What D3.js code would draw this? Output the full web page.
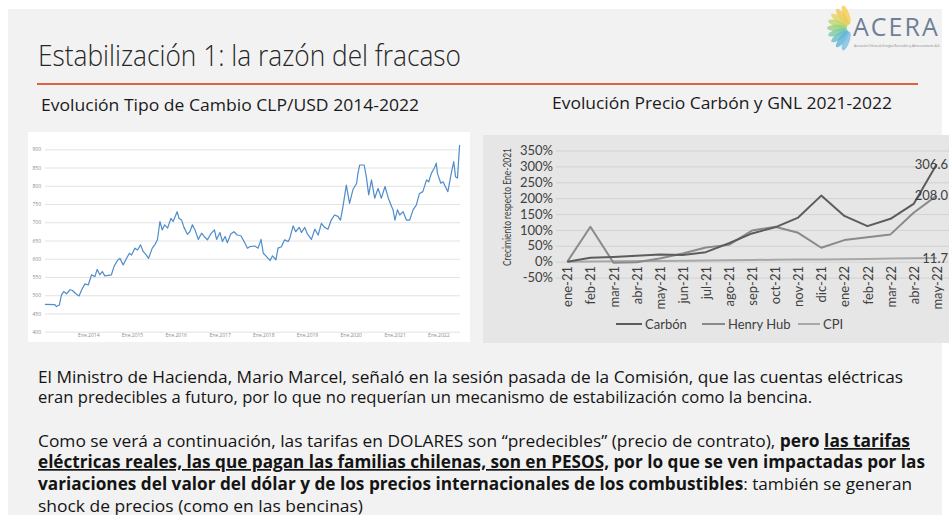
<!DOCTYPE html>
<html>
<head>
<meta charset="utf-8">
<script src="https://cdn.jsdelivr.net/npm/d3@7"></script>
<style>
body { margin: 0; background: #fff; }
svg { display: block; }
</style>
</head>
<body>
<svg width="949" height="515"></svg>
<script>
// tipo de cambio CLP/USD
var fxDates = [
	"2013-01-04","2013-03-28","2013-04-10","2013-05-04","2013-05-22","2013-06-10","2013-07-04","2013-08-01","2013-08-22","2013-09-19","2013-10-16","2013-11-07","2013-12-04",
	"2014-01-01","2014-01-28","2014-02-25","2014-03-16","2014-04-07","2014-04-28","2014-05-19","2014-07-13","2014-08-04","2014-09-01","2014-09-22","2014-10-19","2014-11-10","2014-12-10","2014-12-28",
	"2015-01-25","2015-02-16","2015-03-13","2015-04-04","2015-05-01","2015-05-19","2015-06-19","2015-07-10","2015-08-01","2015-08-22","2015-09-10","2015-10-01","2015-10-25","2015-11-22","2015-12-10",
	"2016-01-13","2016-01-28","2016-02-19","2016-03-10","2016-04-07","2016-04-28","2016-05-19","2016-06-10","2016-07-07","2016-08-04","2016-08-25","2016-09-22","2016-10-19","2016-11-19","2016-12-07",
	"2017-01-04","2017-01-25","2017-02-16","2017-03-07","2017-04-04","2017-05-01","2017-05-28","2017-06-28","2017-07-25","2017-08-22","2017-09-10","2017-10-22","2017-11-19","2017-12-13",
	"2018-01-01","2018-01-28","2018-02-27","2018-03-19","2018-04-16","2018-05-04","2018-06-01","2018-06-28","2018-07-28","2018-08-10","2018-09-07","2018-09-28","2018-10-28","2018-11-16","2018-12-13",
	"2019-01-04","2019-02-07","2019-03-07","2019-04-04","2019-05-01","2019-05-28","2019-06-25","2019-07-22","2019-08-19","2019-09-16","2019-10-07","2019-10-28","2019-11-25","2019-12-22",
	"2020-01-19","2020-02-19","2020-03-01","2020-03-16","2020-04-22","2020-05-10","2020-05-30","2020-06-22","2020-07-19","2020-08-16","2020-09-13","2020-10-13","2020-11-10","2020-12-07","2020-12-19",
	"2021-01-04","2021-01-25","2021-02-13","2021-03-13","2021-04-10","2021-05-07","2021-06-04","2021-07-01","2021-07-28","2021-08-25","2021-09-25","2021-10-13","2021-11-04","2021-12-01","2021-12-15","2021-12-25",
	"2022-01-22","2022-02-10","2022-02-28","2022-03-22","2022-04-19","2022-05-10","2022-05-25","2022-06-10","2022-06-28"
];
var fxValues = [
	475,474,469,473,501,510,504,515,513,504,498,515,531,
	528,556,551,571,556,565,553,556,579,595,601,583,597,615,610,
	629,624,638,620,610,601,629,638,652,702,679,693,684,711,702,
	729,711,706,686,667,674,693,679,653,670,661,652,668,679,653,
	672,647,661,644,668,674,665,663,647,629,633,635,629,653,
	615,606,595,608,597,629,633,652,647,656,690,674,686,672,686,
	668,653,681,665,697,686,681,706,720,716,706,743,802,752,
	789,807,834,857,857,825,775,816,766,793,766,798,766,743,734,
	706,734,720,729,706,706,734,747,779,784,816,811,834,850,862,834,
	807,811,798,784,834,866,825,821,912
];
var fxTicks = [400, 450, 500, 550, 600, 650, 700, 750, 800, 850, 900];
var fxYears = [2014, 2015, 2016, 2017, 2018, 2019, 2020, 2021, 2022];

// precios carbon / GNL, crecimiento respecto a ene-2021 (%)
var months = ["ene-21","feb-21","mar-21","abr-21","may-21","jun-21","jul-21","ago-21","sep-21","oct-21","nov-21","dic-21","ene-22","feb-22","mar-22","abr-22","may-22"];
var carbon = [0, 12.6, 15, 19, 23, 21, 30, 58, 89, 108, 139, 208, 144, 112, 135, 182, 306.6];
var henryHub = [0, 110, -3, -2, 10, 26, 45, 53, 98, 110, 91, 44, 68, 77, 86, 154, 208.0];
var cpi = [0, 0.5, 1.3, 2.0, 2.3, 3.2, 4.0, 4.9, 5.4, 6.2, 7.0, 7.3, 7.9, 8.9, 10.2, 10.9, 11.7];
var pctTicks = [-50, 0, 50, 100, 150, 200, 250, 300, 350];
var seriesNames = ["Carbón", "Henry Hub", "CPI"];

var svg = d3.select("svg");
var parseDate = d3.timeParse("%Y-%m-%d");

// fondo de la lamina
svg.append("rect").attr("x", 0).attr("y", 0).attr("width", 949).attr("height", 515).attr("fill", "#ffffff");
svg.append("rect").attr("x", 8).attr("y", 9).attr("width", 934).attr("height", 506).attr("fill", "#f2f2f2");

// logo ACERA
var logo = svg.append("g");
var petalColors = ["#f3cf4c", "#f0c556", "#e0d45c", "#bcd66a", "#98d07e", "#7cc9a0", "#66bfc6", "#5cb0da", "#7bbde3"];
petalColors.forEach(function(c, i) {
	var a = 250 - i * 17.5;
	logo.append("ellipse")
		.attr("cx", 0).attr("cy", 0).attr("rx", 10).attr("ry", 3.2)
		.attr("transform", "translate(851,28) rotate(" + a + ") translate(14,0)")
		.attr("fill", c).attr("opacity", 0.8);
});
logo.append("text").attr("x", 853).attr("y", 36)
	.style("font-family", "'Open Sans', sans-serif").style("font-size", "25px")
	.style("letter-spacing", "2px").attr("fill", "#6f7f98").text("ACERA");
logo.append("text").attr("x", 854).attr("y", 47).attr("textLength", 86)
	.style("font-family", "'Open Sans', sans-serif").style("font-size", "3px")
	.attr("fill", "#8a8a8a").text("Asociación Chilena de Energías Renovables y Almacenamiento A.G.");

// titulo
svg.append("text").attr("x", 38).attr("y", 66).attr("textLength", 423).attr("lengthAdjust", "spacingAndGlyphs")
	.style("font-family", "'Open Sans', sans-serif").style("font-weight", 300).style("font-size", "29px")
	.attr("fill", "#262626").text("Estabilización 1: la razón del fracaso");
svg.append("line").attr("x1", 37).attr("x2", 918).attr("y1", 84).attr("y2", 84)
	.attr("stroke", "#de6142").attr("stroke-width", 2);

svg.append("text").attr("x", 41).attr("y", 111).attr("textLength", 378).attr("lengthAdjust", "spacingAndGlyphs")
	.style("font-family", "'Open Sans', sans-serif").style("font-size", "17px")
	.attr("fill", "#1a1a1a").text("Evolución Tipo de Cambio CLP/USD 2014-2022");
svg.append("text").attr("x", 552).attr("y", 109).attr("textLength", 340).attr("lengthAdjust", "spacingAndGlyphs")
	.style("font-family", "'Open Sans', sans-serif").style("font-size", "17px")
	.attr("fill", "#1a1a1a").text("Evolución Precio Carbón y GNL 2021-2022");

// ---------- grafico izquierdo: tipo de cambio ----------
var left = svg.append("g");
left.append("rect").attr("x", 28).attr("y", 132).attr("width", 442).attr("height", 210).attr("fill", "#ffffff");

var xL = d3.scaleTime()
	.domain([new Date(2014, 0, 1), new Date(2022, 0, 1)])
	.range([88.3, 438.3]);
var yL = d3.scaleLinear()
	.domain([400, 900])
	.range([331.7, 149.3]);

var yAxisL = left.append("g")
	.attr("transform", "translate(45,0)")
	.call(d3.axisLeft(yL).tickValues(fxTicks).tickSize(-415).tickPadding(4));
yAxisL.select(".domain").remove();
yAxisL.selectAll("line").attr("stroke", "#dcdcdc").attr("stroke-width", 0.8);
yAxisL.selectAll("text").attr("fill", "#8c8c8c").style("font-family", "'Open Sans', sans-serif").style("font-size", "5px");

var xAxisL = left.append("g")
	.attr("transform", "translate(0,331.7)")
	.call(d3.axisBottom(xL)
		.tickValues(fxYears.map(function(y) { return new Date(y, 0, 1); }))
		.tickFormat(function(d) { return "Ene." + d.getFullYear(); })
		.tickSize(0).tickPadding(2));
xAxisL.select(".domain").remove();
xAxisL.selectAll("text").attr("fill", "#8c8c8c").style("font-family", "'Open Sans', sans-serif").style("font-size", "5px");

var fxLine = d3.line()
	.x(function(d, i) { return xL(parseDate(fxDates[i])); })
	.y(function(d) { return yL(d); });

left.append("path")
	.datum(fxValues)
	.attr("fill", "none")
	.attr("stroke", "#4f8ccb")
	.attr("stroke-width", 1.2)
	.attr("stroke-linejoin", "round")
	.attr("d", fxLine);

// ---------- grafico derecho: carbon / GNL ----------
var right = svg.append("g");
right.append("rect").attr("x", 483).attr("y", 135).attr("width", 466).attr("height", 208).attr("fill", "#e6e6e6");

var xR = d3.scalePoint().domain(months).range([567.3, 936.7]);
var yR = d3.scaleLinear().domain([-50, 350]).range([277.6, 150.5]);
var fontR = "Lato, 'Open Sans', sans-serif";

var yAxisR = right.append("g")
	.attr("transform", "translate(556,0)")
	.call(d3.axisLeft(yR).tickValues(pctTicks).tickSize(-393).tickPadding(3)
		.tickFormat(function(d) { return d + "%"; }));
yAxisR.select(".domain").remove();
yAxisR.selectAll("line").attr("stroke", "#d2d2d2").attr("stroke-width", 1);
yAxisR.selectAll("text").attr("fill", "#404040").style("font-family", fontR).style("font-size", "13px");

var xAxisR = right.append("g")
	.attr("transform", "translate(0,263)")
	.call(d3.axisBottom(xR).tickSize(0));
xAxisR.select(".domain").remove();
xAxisR.selectAll("text")
	.attr("y", 0).attr("x", -3).attr("dy", ".35em")
	.attr("transform", "rotate(-90)")
	.style("text-anchor", "end")
	.attr("fill", "#404040").style("font-family", fontR).style("font-size", "13px");

right.append("text")
	.attr("transform", "translate(511,207) rotate(-90)")
	.attr("text-anchor", "middle")
	.attr("textLength", 118).attr("lengthAdjust", "spacingAndGlyphs")
	.attr("fill", "#404040").style("font-family", fontR).style("font-size", "12px")
	.text("Crecimiento respecto Ene-2021");

var series = [carbon, henryHub, cpi];
var seriesColors = ["#5c5c5c", "#8a8a8a", "#a8a8a8"];

var pctLine = d3.line()
	.x(function(d, i) { return xR(months[i]); })
	.y(function(d) { return yR(d); });

// dibujar CPI primero, carbon encima
[2, 1, 0].forEach(function(k) {
	right.append("path")
		.datum(series[k])
		.attr("fill", "none")
		.attr("stroke", seriesColors[k])
		.attr("stroke-width", 2)
		.attr("stroke-linejoin", "round")
		.attr("d", pctLine);
});

series.forEach(function(s, k) {
	var last = s[s.length - 1];
	right.append("text")
		.attr("x", 948)
		.attr("y", yR(last))
		.attr("dy", ".35em")
		.attr("text-anchor", "end")
		.attr("fill", "#404040").style("font-family", fontR).style("font-size", "13px")
		.text(last.toFixed(1));
});

// leyenda
var legendX = [616, 702, 798];
var legendW = [26, 23, 22];
seriesNames.forEach(function(n, k) {
	right.append("line")
		.attr("x1", legendX[k]).attr("x2", legendX[k] + legendW[k])
		.attr("y1", 324).attr("y2", 324)
		.attr("stroke", seriesColors[k]).attr("stroke-width", 2);
	right.append("text")
		.attr("x", legendX[k] + legendW[k] + 3).attr("y", 324).attr("dy", ".35em")
		.attr("fill", "#404040").style("font-family", fontR).style("font-size", "13px")
		.text(n);
});

// ---------- texto inferior ----------
var paragraphLines = [
	{ y: 383, w: 865, parts: [["El Ministro de Hacienda, Mario Marcel, señaló en la sesión pasada de la Comisión, que las cuentas eléctricas", 0, 0]] },
	{ y: 403, w: 774, parts: [["eran predecibles a futuro, por lo que no requerían un mecanismo de estabilización como la bencina.", 0, 0]] },
	{ y: 447, w: 872, parts: [["Como se verá a continuación, las tarifas en DOLARES son “predecibles” (precio de contrato), ", 0, 0], ["pero ", 1, 0], ["las tarifas", 1, 1]] },
	{ y: 468, w: 887, parts: [["eléctricas reales, las que pagan las familias chilenas, son en PESOS,", 1, 1], [" por lo que se ven impactadas por las", 1, 0]] },
	{ y: 490, w: 874, parts: [["variaciones del valor del dólar y de los precios internacionales de los combustibles", 1, 0], [": también se generan", 0, 0]] },
	{ y: 512, w: 325, parts: [["shock de precios (como en las bencinas)", 0, 0]] }
];

paragraphLines.forEach(function(l) {
	var t = svg.append("text")
		.attr("x", 38).attr("y", l.y)
		.attr("textLength", l.w).attr("lengthAdjust", "spacingAndGlyphs")
		.style("font-family", "'Open Sans', sans-serif").style("font-size", "17px")
		.attr("fill", "#141414");
	l.parts.forEach(function(p) {
		t.append("tspan")
			.style("font-weight", p[1] ? 700 : 400)
			.style("text-decoration", p[2] ? "underline" : "none")
			.text(p[0]);
	});
});
</script>
</body>
</html>
